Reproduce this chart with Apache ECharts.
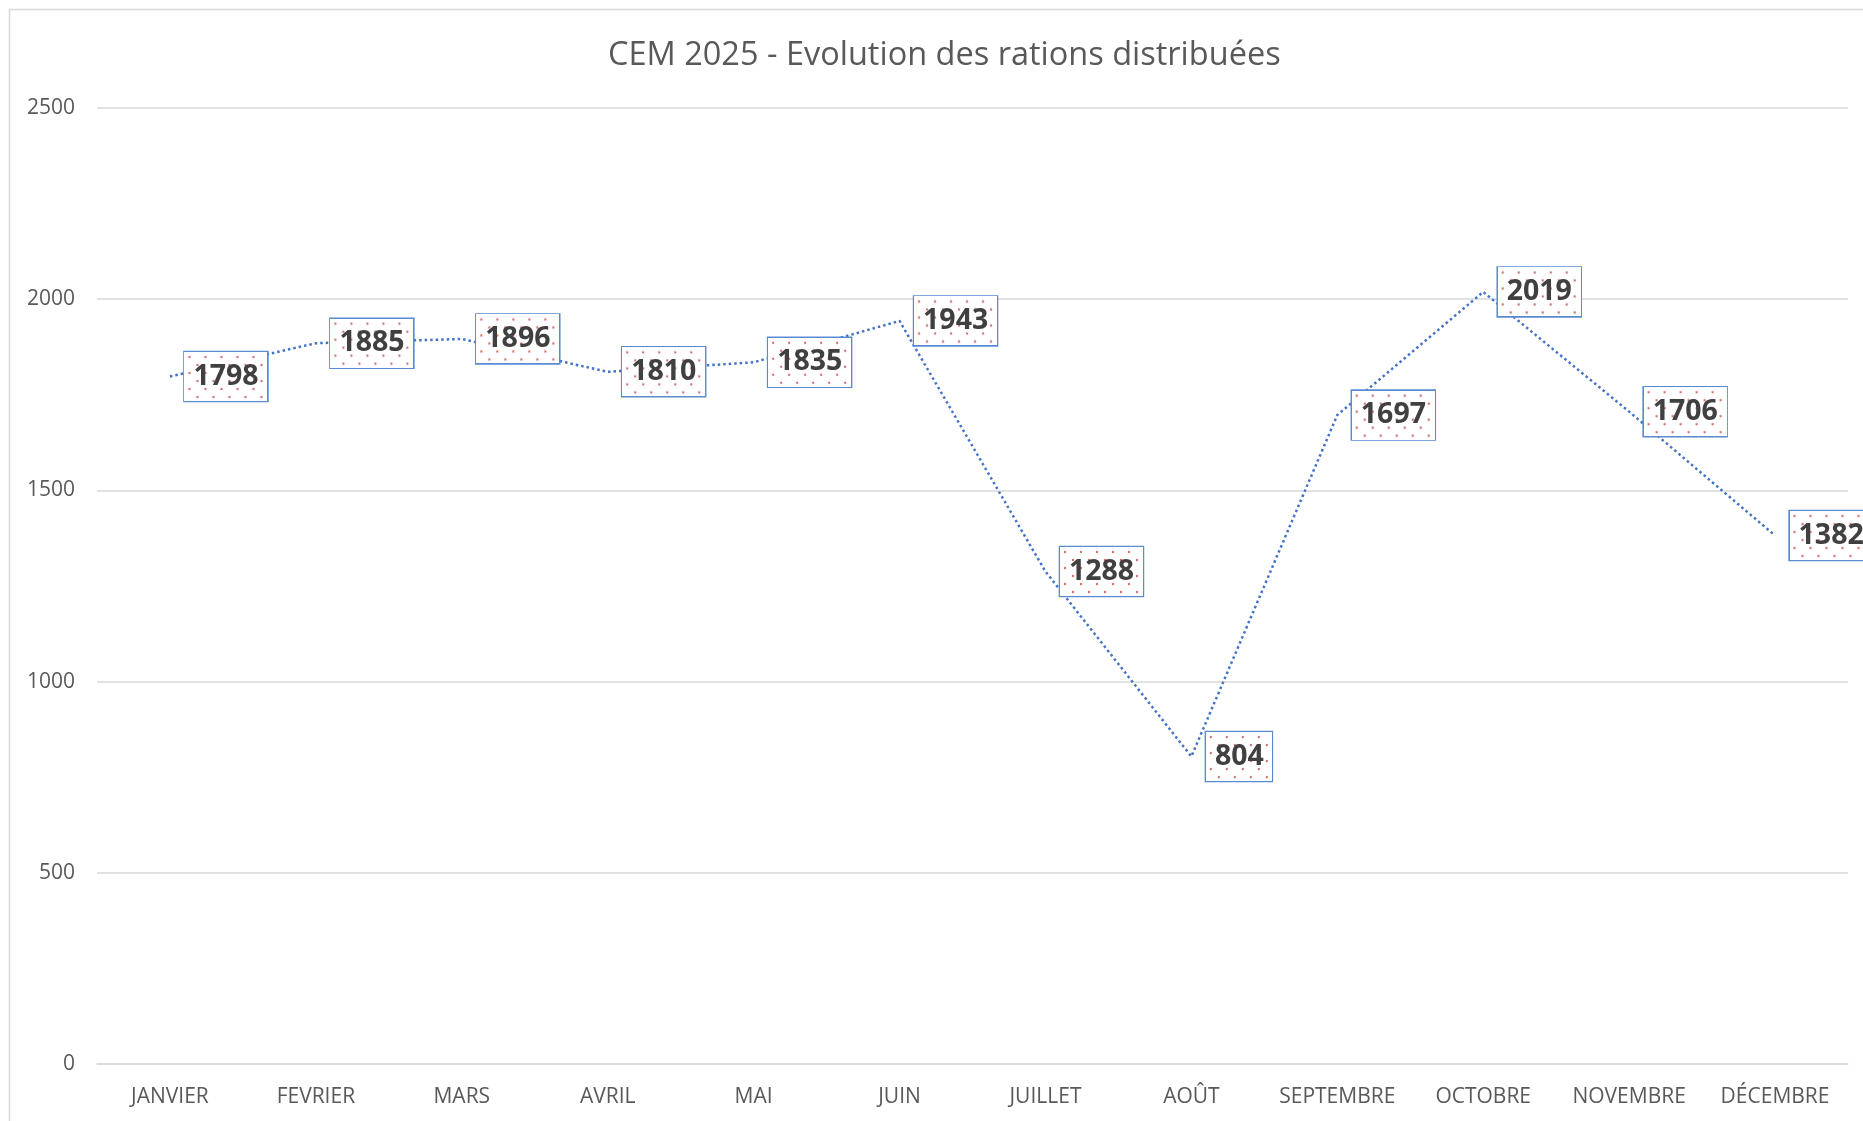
<!DOCTYPE html>
<html>
<head>
<meta charset="utf-8">
<script src="https://cdn.jsdelivr.net/npm/echarts@6/dist/echarts.min.js"></script>
<style>
  html, body { margin: 0; padding: 0; background: #fff; }
  #chart { width: 1863px; height: 1121px; }
</style>
</head>
<body>
<div id="chart"></div>
<script>
// données
var months = ['JANVIER', 'FEVRIER', 'MARS', 'AVRIL', 'MAI', 'JUIN', 'JUILLET', 'AOÛT', 'SEPTEMBRE', 'OCTOBRE', 'NOVEMBRE', 'DÉCEMBRE'];
var rations = [1798, 1885, 1896, 1810, 1835, 1943, 1288, 804, 1697, 2019, 1706, 1382];
var yTicks = [0, 500, 1000, 1500, 2000, 2500];

// fond pointillé des étiquettes
function dotPattern(w, h) {
  var c = document.createElement('canvas');
  c.width = w; c.height = h;
  var ctx = c.getContext('2d');
  ctx.fillStyle = '#fff';
  ctx.fillRect(0, 0, w, h);
  ctx.fillStyle = 'rgba(192,80,77,0.8)';
  var row = 0;
  for (var y = 5; y < h; y += 8, row++) {
    for (var x = (row % 2 ? 13 : 5); x < w; x += 16) {
      ctx.beginPath();
      ctx.arc(x, y, 1.2, 0, Math.PI * 2);
      ctx.fill();
    }
  }
  return c;
}
var bg4 = dotPattern(83, 49);
var bg3 = dotPattern(66, 49);

var myChart = echarts.init(document.getElementById('chart'));
var option = {
  backgroundColor: '#fff',
  animation: false,
  title: {
    text: 'CEM 2025 - Evolution des rations distribuées',
    left: 603,
    top: 34,
    textStyle: { fontFamily: 'Open Sans', fontWeight: 'normal', fontSize: 32.5, color: '#595959' }
  },
  graphic: [{
    type: 'rect',
    shape: { x: 9.5, y: 9.5, width: 2000, height: 2000 },
    style: { fill: 'none', stroke: '#D9D9D9', lineWidth: 1.5 },
    silent: true
  }],
  grid: { left: 97, right: 15, top: 108, bottom: 57 },
  xAxis: {
    type: 'category',
    data: months,
    boundaryGap: true,
    axisLine: { show: true, lineStyle: { color: '#D9D9D9', width: 1.5 } },
    axisTick: { show: false },
    axisLabel: { interval: 0, margin: 23, color: '#595959', fontFamily: 'Open Sans', fontSize: 21 }
  },
  yAxis: {
    type: 'value',
    min: yTicks[0],
    max: yTicks[yTicks.length - 1],
    interval: 500,
    axisLine: { show: false },
    axisTick: { show: false },
    splitLine: { lineStyle: { color: '#D9D9D9', width: 1.5 } },
    axisLabel: {
      margin: 22, color: '#595959', fontFamily: 'Open Sans', fontSize: 21,
      formatter: function (v) { return String(v); }
    }
  },
  series: [{
    type: 'line',
    showSymbol: true,
    symbol: 'circle',
    symbolSize: 1,
    itemStyle: { color: 'rgba(0,0,0,0)' },
    data: rations.map(function (v) {
      var four = String(v).length > 3;
      return {
        value: v,
        label: {
          width: four ? 65 : 48,
          backgroundColor: { image: four ? bg4 : bg3 }
        }
      };
    }),
    lineStyle: { color: '#4472C4', width: 2.5, type: [2.5, 3] },
    label: {
      show: true,
      position: 'right',
      distance: 14,
      align: 'left',
      verticalAlign: 'middle',
      fontFamily: 'Open Sans',
      fontWeight: 'bold',
      fontSize: 28.5,
      lineHeight: 35,
      color: '#404040',
      padding: [14, 9, 0, 9],
      borderColor: '#5A8AD2',
      borderWidth: 2.5
    },
    labelLayout: { hideOverlap: false }
  }]
};
myChart.setOption(option);
</script>
</body>
</html>
